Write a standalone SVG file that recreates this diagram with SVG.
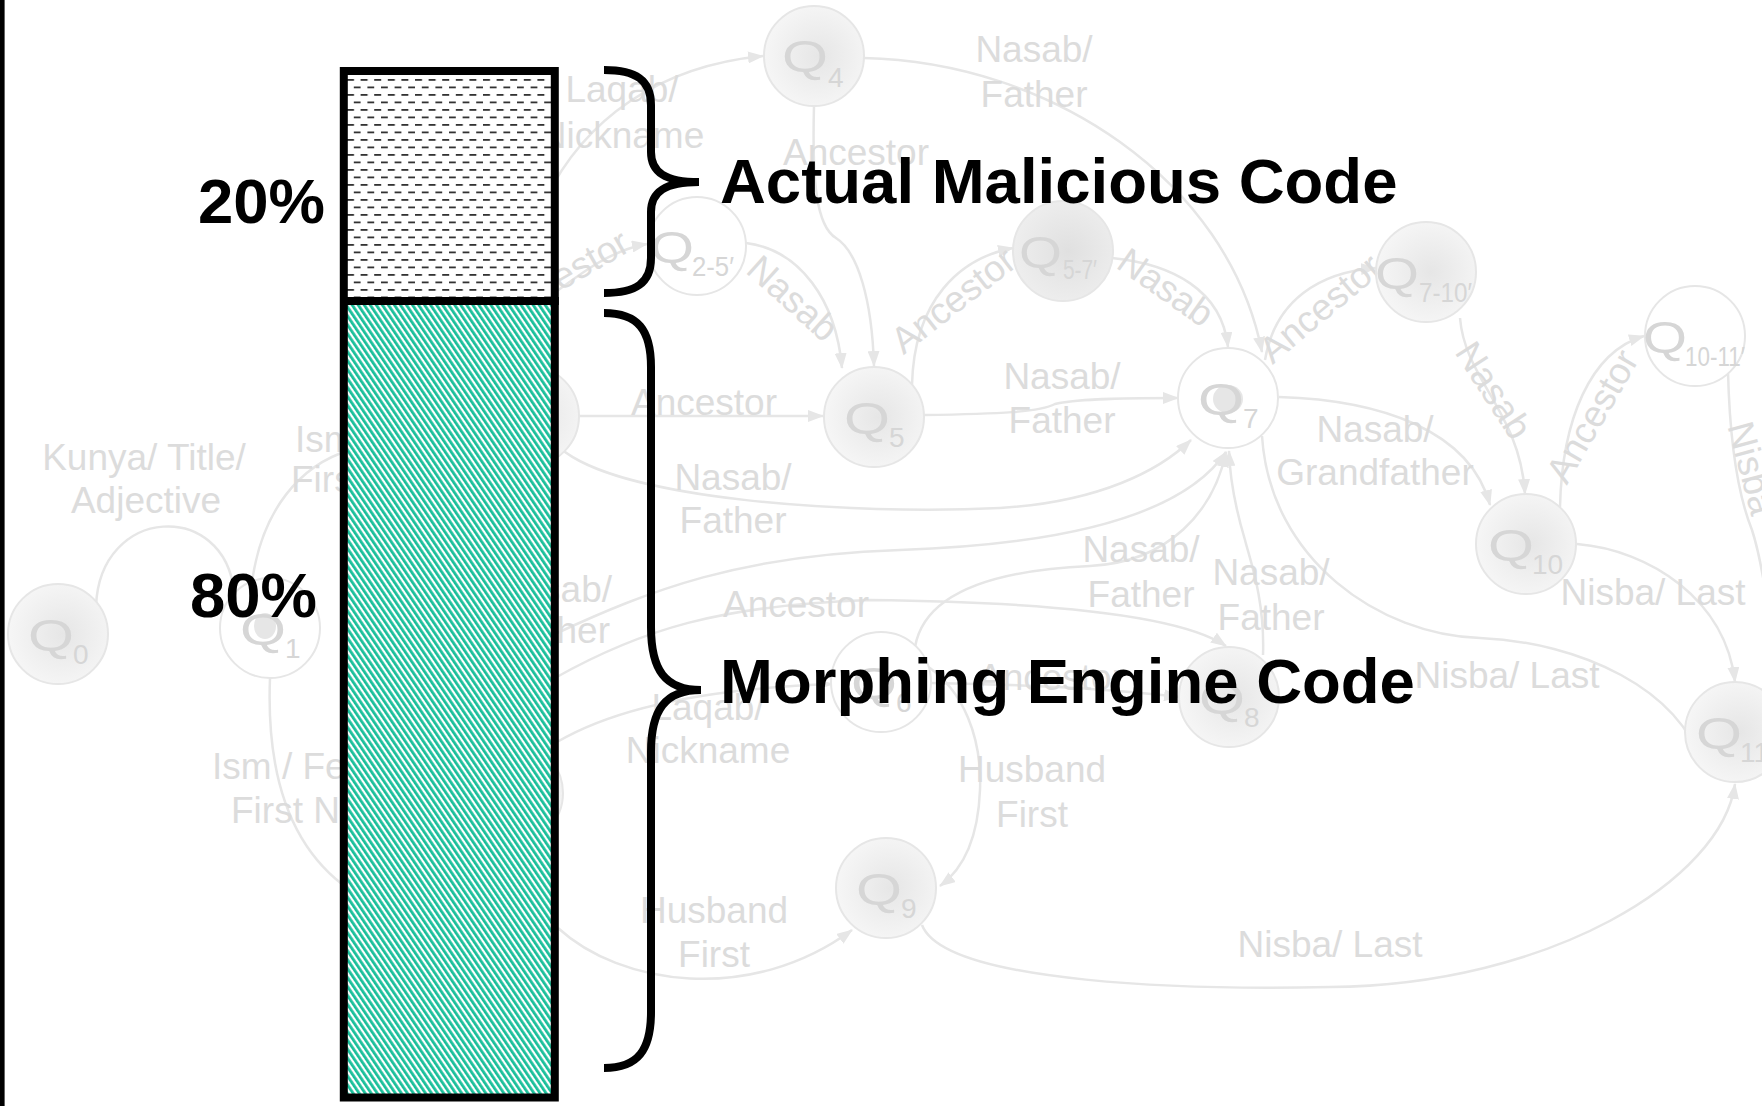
<svg xmlns="http://www.w3.org/2000/svg" width="1762" height="1106" viewBox="0 0 1762 1106">
  <style>
    .edge { fill: none; stroke: #e6e6e6; stroke-width: 2.5; }
    .arr { marker-end: url(#arrow); }
    .lbl { font-family: "Liberation Sans", Arial, sans-serif; font-size: 37px; fill: #dcdcdc; text-anchor: middle; }
    .st { text-anchor: start; }
    .en { text-anchor: end; }
    .node { stroke: #e6e6e6; stroke-width: 2; }
    .open { fill: #ffffff; }
    .filled { fill: url(#nodeFill); }
    .dark { fill: url(#nodeFillDark); }
    .q { font-family: "Liberation Sans", Arial, sans-serif; font-size: 44px; fill: #d6d6d6; }
    .sub { font-family: "Liberation Sans", Arial, sans-serif; font-size: 28px; fill: #d6d6d6; }
    .big { font-family: "Liberation Sans", Arial, sans-serif; font-weight: bold; font-size: 63.5px; fill: #000000; }
    .brace { fill: none; stroke: #000000; stroke-width: 8; }
  </style>
  <defs>
    <marker id="arrow" markerUnits="userSpaceOnUse" markerWidth="16" markerHeight="12" refX="15" refY="6" orient="auto">
      <path d="M0 0 L16 6 L0 12 z" fill="#e6e6e6"/>
    </marker>
    <radialGradient id="nodeFill" cx="0.55" cy="0.5" r="0.55">
      <stop offset="0" stop-color="#e6e6e6"/>
      <stop offset="1" stop-color="#f6f6f6"/>
    </radialGradient>
    <radialGradient id="nodeFillDark" cx="0.55" cy="0.5" r="0.55">
      <stop offset="0" stop-color="#e0e0e0"/>
      <stop offset="1" stop-color="#eeeeee"/>
    </radialGradient>
    <pattern id="dashFill" x="347" y="76" width="13.6" height="15" patternUnits="userSpaceOnUse">
      <rect x="0" y="3" width="7" height="1.8" fill="#333333"/>
      <rect x="6.8" y="10.5" width="7" height="1.8" fill="#333333"/>
    </pattern>
    <pattern id="tealFill" width="5" height="5" patternUnits="userSpaceOnUse" patternTransform="rotate(-34)">
      <rect width="5" height="5" fill="#ffffff"/>
      <rect width="2.8" height="5" fill="#1abf9a"/>
    </pattern>
  </defs>

  <rect width="1762" height="1106" fill="#ffffff"/>

  <!-- background automaton: connectors -->
  <g id="connectors">
    <path class="edge" d="M 96 606 C 100 505, 225 500, 234 592"/>
    <path class="edge" d="M 252 582 C 262 510, 300 465, 350 450"/>
    <path class="edge" d="M 270 678 C 266 780, 292 850, 350 890"/>
    <path class="edge arr" d="M 864 58 C 1050 62, 1228 180, 1262 352"/>
    <path class="edge arr" d="M 814 106 C 812 180, 816 226, 836 238 C 858 252, 872 300, 874 366"/>
    <path class="edge arr" d="M 545 200 C 585 118, 660 66, 763 56"/>
    <path class="edge arr" d="M 545 300 C 585 270, 612 250, 647 244"/>
    <path class="edge arr" d="M 746 243 C 800 250, 836 300, 842 368"/>
    <path class="edge arr" d="M 912 385 C 914 300, 960 258, 1013 248"/>
    <path class="edge arr" d="M 1112 258 C 1172 264, 1222 290, 1228 347"/>
    <path class="edge arr" d="M 1265 360 C 1275 300, 1320 272, 1376 268"/>
    <path class="edge arr" d="M 1460 318 C 1465 380, 1520 412, 1525 494"/>
    <path class="edge arr" d="M 1560 507 C 1562 420, 1590 352, 1644 336"/>
    <path class="edge" d="M 1728 372 C 1730 450, 1740 500, 1752 530 C 1765 570, 1772 640, 1780 700"/>
    <path class="edge arr" d="M 1577 544 C 1650 550, 1726 600, 1735 682"/>
    <path class="edge arr" d="M 1262 436 C 1270 560, 1380 635, 1480 638 C 1580 642, 1682 690, 1702 766"/>
    <path class="edge arr" d="M 922 925 C 945 985, 1200 990, 1330 987 C 1550 985, 1722 880, 1735 784"/>
    <path class="edge arr" d="M 924 664 C 965 690, 982 740, 980 790 C 978 840, 962 870, 940 886"/>
    <path class="edge arr" d="M 1263 655 C 1265 600, 1250 560, 1245 540 C 1236 510, 1230 482, 1229 451"/>
    <path class="edge arr" d="M 560 448 C 620 500, 850 515, 1000 508 C 1100 502, 1160 470, 1191 440"/>
    <path class="edge arr" d="M 555 634 C 650 590, 740 555, 900 550 C 1050 545, 1180 520, 1226 452"/>
    <path class="edge arr" d="M 915 647 C 925 590, 1000 570, 1090 566 C 1170 562, 1214 510, 1226 452"/>
    <path class="edge arr" d="M 555 678 C 640 630, 720 605, 870 600 C 1050 602, 1180 615, 1226 646"/>
    <path class="edge arr" d="M 557 742 C 620 705, 720 688, 832 684"/>
    <path class="edge arr" d="M 558 928 C 620 985, 750 1005, 852 930"/>
    <path class="edge arr" d="M 579 416 L 823 416"/>
    <path class="edge arr" d="M 924 415 C 1000 414, 1040 412, 1055 404 C 1080 398, 1140 398, 1178 398"/>
    <path class="edge arr" d="M 1279 397 C 1380 400, 1470 430, 1490 505"/>
    <path class="edge arr" d="M 931 683 C 1050 685, 1120 690, 1179 697"/>

    <!-- transition labels -->
    <text class="lbl" x="144" y="470">Kunya/ Title/</text>
    <text class="lbl" x="146" y="513">Adjective</text>
    <text class="lbl st" x="295" y="452">Ism</text>
    <text class="lbl st" x="291" y="492">Firs</text>
    <text class="lbl st" x="212" y="779">Ism / Fe</text>
    <text class="lbl st" x="231" y="823">First N</text>
    <text class="lbl" x="622" y="102">Laqab/</text>
    <text class="lbl" x="622" y="148">Nickname</text>
    <text class="lbl" x="1034" y="62">Nasab/</text>
    <text class="lbl" x="1034" y="107">Father</text>
    <text class="lbl" x="856" y="165">Ancestor</text>
    <text class="lbl en" transform="translate(632 250) rotate(-30)">Ancestor</text>
    <text class="lbl" transform="translate(793 298) rotate(42)" y="13">Nasab</text>
    <text class="lbl" transform="translate(953 300) rotate(-38)" y="13">Ancestor</text>
    <text class="lbl" transform="translate(1166 287) rotate(35)" y="13">Nasab</text>
    <text class="lbl" transform="translate(1320 308) rotate(-40)" y="13">Ancestor</text>
    <text class="lbl" transform="translate(1494 390) rotate(57)" y="13">Nasab</text>
    <text class="lbl" transform="translate(1592 416) rotate(-60)" y="13">Ancestor</text>
    <text class="lbl" transform="translate(1752 468) rotate(75)" y="13">Nisba</text>
    <text class="lbl" x="704" y="415">Ancestor</text>
    <text class="lbl" x="1062" y="389">Nasab/</text>
    <text class="lbl" x="1062" y="433">Father</text>
    <text class="lbl" x="733" y="490">Nasab/</text>
    <text class="lbl" x="733" y="533">Father</text>
    <text class="lbl en" x="612" y="602">Nasab/</text>
    <text class="lbl en" x="610" y="643">Father</text>
    <text class="lbl" x="796" y="617">Ancestor</text>
    <text class="lbl" x="1141" y="562">Nasab/</text>
    <text class="lbl" x="1141" y="607">Father</text>
    <text class="lbl" x="1271" y="585">Nasab/</text>
    <text class="lbl" x="1271" y="630">Father</text>
    <text class="lbl" x="1375" y="442">Nasab/</text>
    <text class="lbl" x="1375" y="485">Grandfather</text>
    <text class="lbl" x="1051" y="690">Ancestor</text>
    <text class="lbl" x="1507" y="688">Nisba/ Last</text>
    <text class="lbl" x="1653" y="605">Nisba/ Last</text>
    <text class="lbl" x="708" y="720">Laqab/</text>
    <text class="lbl" x="708" y="763">Nickname</text>
    <text class="lbl" x="714" y="923">Husband</text>
    <text class="lbl" x="714" y="967">First</text>
    <text class="lbl" x="1032" y="782">Husband</text>
    <text class="lbl" x="1032" y="827">First</text>
    <text class="lbl" x="1330" y="957">Nisba/ Last</text>
  </g>

  <!-- background automaton: states -->
  <g id="q0"><circle class="node filled" cx="58" cy="634" r="50"/><text class="q" x="28" y="651" textLength="46" lengthAdjust="spacingAndGlyphs">Q</text><text class="sub" x="73" y="664">0</text></g>
  <g id="q1"><circle class="node open" cx="270" cy="628" r="50"/><ellipse cx="265" cy="626" rx="11" ry="13" fill="#e6e6e6"/><text class="q" x="240" y="645" textLength="46" lengthAdjust="spacingAndGlyphs">Q</text><text class="sub" x="285" y="658">1</text></g>
  <g id="h1"><circle class="node filled" cx="529" cy="416" r="50"/></g>
  <g id="h2"><circle class="node filled" cx="513" cy="793" r="50"/></g>
  <g id="q4"><circle class="node filled" cx="814" cy="56" r="50"/><text class="q" x="782" y="72" textLength="46" lengthAdjust="spacingAndGlyphs">Q</text><text class="sub" x="828" y="87">4</text></g>
  <g id="q2-5"><circle class="node open" cx="697" cy="246" r="49"/><text class="q" x="650" y="263" textLength="44" lengthAdjust="spacingAndGlyphs">Q</text><text class="sub" x="692" y="276" textLength="42" lengthAdjust="spacingAndGlyphs">2-5′</text></g>
  <g id="q5"><circle class="node filled" cx="874" cy="417" r="50"/><text class="q" x="844" y="434" textLength="46" lengthAdjust="spacingAndGlyphs">Q</text><text class="sub" x="889" y="447">5</text></g>
  <g id="q5-7"><circle class="node dark" cx="1063" cy="251" r="50"/><text class="q" x="1019" y="268" textLength="43" lengthAdjust="spacingAndGlyphs">Q</text><text class="sub" x="1063" y="279" textLength="34" lengthAdjust="spacingAndGlyphs">5-7′</text></g>
  <g id="q7"><circle class="node open" cx="1228" cy="398" r="50"/><ellipse cx="1228" cy="399" rx="15" ry="14" fill="#e6e6e6"/><text class="q" x="1198" y="415" textLength="46" lengthAdjust="spacingAndGlyphs">Q</text><text class="sub" x="1243" y="428">7</text></g>
  <g id="q7-10"><circle class="node filled" cx="1426" cy="272" r="50"/><text class="q" x="1375" y="289" textLength="44" lengthAdjust="spacingAndGlyphs">Q</text><text class="sub" x="1419" y="302" textLength="53" lengthAdjust="spacingAndGlyphs">7-10′</text></g>
  <g id="q10-11"><circle class="node open" cx="1695" cy="336" r="50"/><text class="q" x="1643" y="353" textLength="44" lengthAdjust="spacingAndGlyphs">Q</text><text class="sub" x="1685" y="366" textLength="60" lengthAdjust="spacingAndGlyphs">10-11′</text></g>
  <g id="q10"><circle class="node filled" cx="1526" cy="544" r="50"/><text class="q" x="1488" y="561" textLength="46" lengthAdjust="spacingAndGlyphs">Q</text><text class="sub" x="1532" y="574">10</text></g>
  <g id="q11"><circle class="node filled" cx="1735" cy="732" r="50"/><text class="q" x="1696" y="749" textLength="46" lengthAdjust="spacingAndGlyphs">Q</text><text class="sub" x="1740" y="762">11</text></g>
  <g id="q6"><circle class="node open" cx="881" cy="682" r="50"/><text class="q" x="851" y="699" textLength="46" lengthAdjust="spacingAndGlyphs">Q</text><text class="sub" x="896" y="712">6</text></g>
  <g id="q8"><circle class="node filled" cx="1229" cy="697" r="50"/><text class="q" x="1199" y="714" textLength="46" lengthAdjust="spacingAndGlyphs">Q</text><text class="sub" x="1244" y="727">8</text></g>
  <g id="q9"><circle class="node filled" cx="886" cy="888" r="50"/><text class="q" x="856" y="905" textLength="46" lengthAdjust="spacingAndGlyphs">Q</text><text class="sub" x="901" y="918">9</text></g>

  <!-- left frame edge -->
  <rect x="0" y="0" width="4.6" height="1106" fill="#000000"/>

  <!-- code-size bar -->
  <g id="bar">
    <rect x="343.8" y="71" width="211" height="230" fill="#ffffff"/>
    <rect x="343.8" y="71" width="211" height="230" fill="url(#dashFill)"/>
    <rect x="343.8" y="301" width="211" height="796.5" fill="url(#tealFill)"/>
    <rect x="343.8" y="71" width="211" height="1026.5" fill="none" stroke="#000000" stroke-width="8"/>
    <line x1="340" y1="301" x2="558.8" y2="301" stroke="#000000" stroke-width="8"/>
  </g>

  <g id="pct-labels">
    <text class="big" x="325" y="223" text-anchor="end">20%</text>
    <text class="big" x="317" y="617" text-anchor="end">80%</text>
  </g>

  <g id="brace-malicious">
    <path class="brace" d="M 604 70 C 636 70 651 80 651 105 L 651 152 C 651 172 665 182 699 182 C 665 182 651 192 651 212 L 651 258 C 651 283 636 293 604 293"/>
    <text class="big" x="720" y="203">Actual Malicious Code</text>
  </g>

  <g id="brace-engine">
    <path class="brace" d="M 604 313 C 638 313 651 330 651 367 L 651 627 C 651 670 665 690 701 690 C 665 690 651 710 651 752 L 651 1012 C 651 1050 638 1068 604 1068"/>
    <text class="big" x="720" y="703">Morphing Engine Code</text>
  </g>
</svg>
